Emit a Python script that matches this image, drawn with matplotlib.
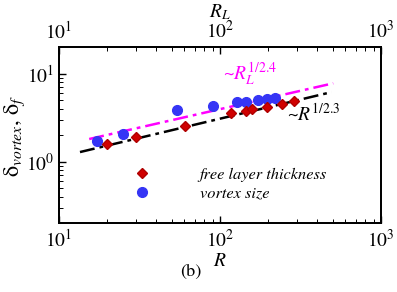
import numpy as np
import matplotlib
matplotlib.use("Agg")
import matplotlib.pyplot as plt

plt.rcParams['font.family'] = ['STIXGeneral', 'DejaVu Serif']
plt.rcParams['mathtext.fontset'] = 'stix'

# free layer thickness (red diamonds)
R_free = [20.0, 30.1, 60.6, 117, 145, 157, 195, 241, 288]
d_free = [1.61, 1.89, 2.52, 3.60, 3.80, 3.97, 4.14, 4.53, 4.93]

# vortex size (blue circles)
R_vort = [17.1, 24.9, 54.3, 90.8, 127, 145, 172, 195, 220]
d_vort = [1.70, 2.06, 3.90, 4.27, 4.72, 4.80, 5.02, 5.16, 5.30]

# power-law guide lines: range, coefficient, exponent
fit_R_range = [13.5, 494]
fit_R_coef, fit_R_exp = 0.416, 1 / 2.3
fit_RL_range = [15.4, 505]
fit_RL_coef, fit_RL_exp = 0.580, 1 / 2.4

fig = plt.figure(figsize=(3.97, 2.92), dpi=100)
ax = fig.add_axes([0.1486, 0.2346, 0.8111, 0.6044])

# guide lines
r1 = np.geomspace(*fit_R_range, 50)
ax.plot(r1, fit_R_coef * r1 ** fit_R_exp, color='black', lw=1.8,
        dashes=(6, 2, 1.5, 2))
r2 = np.geomspace(*fit_RL_range, 50)
ax.plot(r2, fit_RL_coef * r2 ** fit_RL_exp, color='#ff00ff', lw=1.8,
        dashes=(6, 2, 1.5, 2))

# data
free, = ax.plot(R_free, d_free, 'D', color='#d00000', ms=5.5, mec='#b00000', zorder=4)
vort, = ax.plot(R_vort, d_vort, 'o', color='#3535f5', ms=7, mec='#3535f5', zorder=3)

ax.set_xscale('log')
ax.set_yscale('log')
ax.set_xlim(10, 1000)
ax.set_ylim(0.2, 20)

for s in ax.spines.values():
    s.set_linewidth(1.3)

ax.tick_params(axis='both', which='both', direction='in', labelsize=14)
ax.tick_params(which='major', length=5, width=1)
ax.tick_params(which='minor', length=3, width=0.7)
ax.tick_params(axis='y', right=False)
ax.tick_params(axis='x', pad=4)

ax.set_xlabel('$R$', fontsize=14, labelpad=1)
ax.set_ylabel('δ$_{vortex}$, δ$_{f}$', fontsize=16, labelpad=-1)

# top axis (R_L)
ax2 = ax.twiny()
ax2.set_xscale('log')
ax2.set_xlim(10, 1000)
ax2.tick_params(axis='x', which='both', direction='in', labelsize=14)
ax2.tick_params(which='major', length=5, width=1)
ax2.tick_params(which='minor', length=3, width=0.7)
ax2.set_xlabel('$R_L$', fontsize=14, labelpad=2)
for s in ax2.spines.values():
    s.set_linewidth(1.3)

# annotations
ax.text(104, 9.7, '~$R_L^{1/2.4}$', color='#ff00ff', fontsize=14,
        ha='left', va='center')
ax.text(262, 3.5, '~$R^{1/2.3}$', color='black', fontsize=14,
        ha='left', va='center')

# legend
ax.legend([free, vort], ['free layer thickness', 'vortex size'],
          loc='center left', bbox_to_anchor=(0.233, 0.224), frameon=False,
          prop={'style': 'italic', 'size': 11.8}, handletextpad=3.0,
          labelspacing=0.25, borderpad=0, borderaxespad=0, handlelength=1.0)

fig.text(0.481, 0.068, '(b)', fontsize=13, ha='center', va='center')

fig.savefig('out.png', dpi=100)
